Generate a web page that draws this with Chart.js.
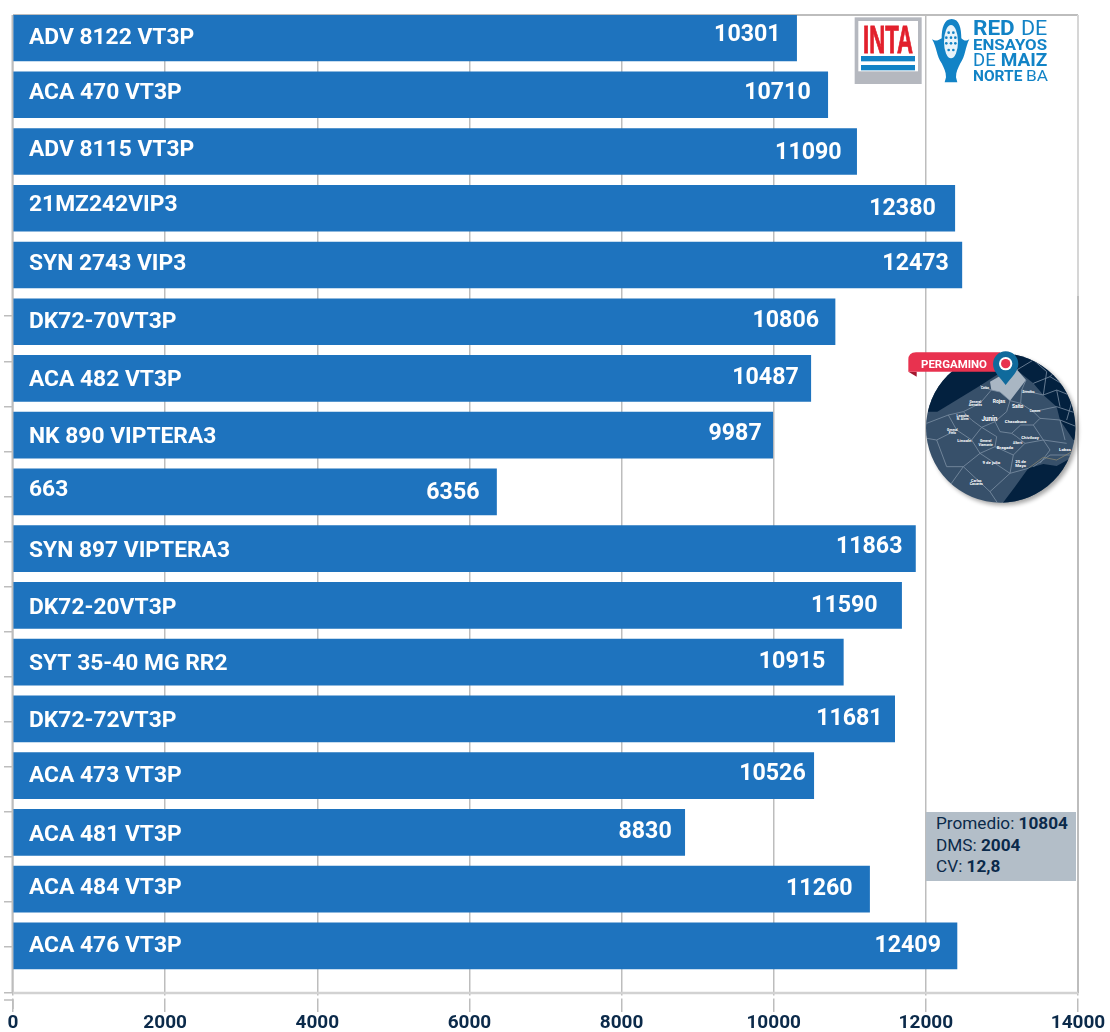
<!DOCTYPE html>
<html><head><meta charset="utf-8">
<style>
html,body{margin:0;padding:0;background:#fff;width:1110px;height:1032px;overflow:hidden}
#wrap{position:relative;width:1110px;height:1032px}
canvas{position:absolute;left:0;top:0}
svg{position:absolute;overflow:visible}
#stats{position:absolute;left:926px;top:812px;width:150px;height:69px;background:#b3bec8;color:#0b2a4a;font:17.2px/21.5px Roboto,sans-serif;box-sizing:border-box;padding:1px 0 0 10px;white-space:nowrap}
#stats b{font-weight:700}
</style>
<script src="https://cdn.jsdelivr.net/npm/chart.js@4"></script>
</head><body><div id="wrap">
<canvas id="c" width="1110" height="1032"></canvas>

<svg style="left:840px;top:0" width="270" height="100" viewBox="0 0 810 300" font-family="Roboto,sans-serif">
  <rect x="44" y="52" width="201" height="200" fill="#b5b8bf"/>
  <rect x="55" y="63" width="179" height="151" fill="#fff"/>
  <text x="144" y="160" text-anchor="middle" font-size="118" font-weight="700" fill="#e2202c" stroke="#e2202c" stroke-width="3" textLength="150" lengthAdjust="spacingAndGlyphs" font-family="'Liberation Sans',sans-serif">INTA</text>
  <rect x="63" y="168" width="162" height="16" fill="#1283c6"/>
  <rect x="63" y="195" width="162" height="16" fill="#1283c6"/>
  <path d="M335 57C312 57 305 85 305 115C290 125 285 122 276 118C290 140 290 170 305 190C312 205 318 215 318 232L314 247H352L348 232C348 215 354 205 361 190C376 170 376 140 388 118C380 122 374 125 364 115C364 85 358 57 335 57Z" fill="#1283c6"/>
  <ellipse cx="333" cy="125" rx="21" ry="50" fill="#e8f3fa"/>
  <g fill="#1283c6"><circle cx="326" cy="98" r="4"/><circle cx="340" cy="98" r="4"/><circle cx="319" cy="113" r="4"/><circle cx="333" cy="113" r="4"/><circle cx="346" cy="113" r="4"/><circle cx="319" cy="130" r="4"/><circle cx="333" cy="130" r="4"/><circle cx="346" cy="130" r="4"/><circle cx="326" cy="150" r="4"/><circle cx="340" cy="150" r="4"/></g>
  <g fill="#1283c6">
    <text x="399" y="104" font-size="62" font-weight="700" textLength="125" lengthAdjust="spacingAndGlyphs">RED</text>
    <text x="543" y="104" font-size="62" font-weight="400" textLength="79" lengthAdjust="spacingAndGlyphs">DE</text>
    <text x="399" y="149" font-size="46" font-weight="700" textLength="222" lengthAdjust="spacingAndGlyphs">ENSAYOS</text>
    <text x="399" y="198" font-size="54" font-weight="400" textLength="68" lengthAdjust="spacingAndGlyphs">DE</text>
    <text x="482" y="198" font-size="54" font-weight="700" textLength="140" lengthAdjust="spacingAndGlyphs">MAIZ</text>
    <text x="399" y="243" font-size="44" font-weight="700" textLength="148" lengthAdjust="spacingAndGlyphs">NORTE</text>
    <text x="558" y="243" font-size="44" font-weight="400" textLength="66" lengthAdjust="spacingAndGlyphs">BA</text>
  </g>
</svg>

<svg style="left:900px;top:340px" width="190" height="170" viewBox="0 0 570 510" font-family="Roboto,sans-serif">
  <defs>
    <clipPath id="disc"><circle cx="302" cy="264" r="224"/></clipPath>
    <filter id="sh" x="-20%" y="-20%" width="140%" height="140%"><feGaussianBlur stdDeviation="7"/></filter>
  </defs>
  <circle cx="310" cy="272" r="224" fill="#000" opacity=".35" filter="url(#sh)"/>
  <g clip-path="url(#disc)">
    <rect x="70" y="30" width="470" height="470" fill="#37506a"/>
    <path d="M70 215H112L240 137L290 105L345 55L70 20Z" fill="#03213f"/>
    <path d="M345 40L350 90L400 130L430 165L470 200L480 240L520 300L540 300V30Z" fill="#03213f"/>
    <path d="M300 500L345 440L385 385L430 372L470 378L530 345V510Z" fill="#03213f"/>
    <path d="M270 125L300 108L350 88L378 120L330 182L300 156L274 150Z" fill="#a9b6c3"/>
    <g fill="none" stroke="#7d91a4" stroke-width="2.4" stroke-linejoin="round">
      <path d="M240 137L274 150L300 156L330 182L320 215L285 245L245 262L215 240L190 215L240 190"/>
      <path d="M240 190L274 150M330 182L362 190L400 215L420 235L400 255L362 255L335 280L300 275L285 245"/>
      <path d="M378 120L365 150L362 190M365 150L430 165M400 215L470 200M420 235L480 240M400 255L430 300L500 310"/>
      <path d="M245 262L215 300L170 270L145 225L190 215M145 225L80 250M170 270L110 300L80 295M215 300L240 340L190 380"/>
      <path d="M245 262L290 290L285 320L240 340M285 320L340 345L375 310L350 290L335 280M375 310L430 300L450 330L420 370"/>
      <path d="M240 340L330 400L270 455L190 380L140 380L110 300M340 345L330 400M190 380L140 450M270 455L300 500"/>
      <path d="M400 380L450 345L520 345M385 385L330 400"/>
      <path d="M430 165L470 150L520 170M470 200L530 220M480 240L530 260M350 90L400 60M400 130L450 110L500 140"/>
      <path d="M400 60L440 95L430 165M450 110L490 70M500 140L535 130M470 150L480 200M520 170L500 240M480 240L495 300"/>
    </g>
    <path d="M385 385L430 352L470 360L525 330" fill="none" stroke="#8f8b75" stroke-width="2.2"/>
    <g fill="#fff" font-weight="700" text-anchor="middle" font-size="11">
      <text x="297" y="190" font-size="15">Rojas</text>
      <text x="353" y="204" font-size="15">Salto</text>
      <text x="268" y="242" font-size="19">Junín</text>
      <text x="347" y="250" font-size="13">Chacabuco</text>
      <text x="390" y="298" font-size="13">Chivilcoy</text>
      <text x="193" y="306" font-size="13">Lincoln</text>
      <text x="315" y="328" font-size="13">Bragado</text>
      <text x="274" y="372" font-size="13">9 de julio</text>
      <text x="362" y="369" font-size="13">25 de</text><text x="362" y="381" font-size="13">Mayo</text>
      <text x="229" y="425">Carlos</text><text x="229" y="436">Casares</text>
      <text x="495" y="334" font-size="13">Lobos</text>
      <text x="257" y="307" font-size="10">General</text><text x="257" y="317" font-size="10">Viamonte</text>
      <text x="188" y="230" font-size="10">Leandro</text><text x="188" y="240" font-size="10">N. Alem</text>
      <text x="226" y="189" font-size="10">General</text><text x="226" y="198" font-size="10">Arenales</text>
      <text x="157" y="273" font-size="9">General</text><text x="157" y="282" font-size="9">Pinto</text>
      <text x="353" y="313" font-size="9">Alberti</text>
      <text x="385" y="160" font-size="9">Arrecifes</text>
      <text x="255" y="146" font-size="9">Colón</text>
      <text x="405" y="215" font-size="9">Carmen</text>
    </g>
  </g>
  <path d="M25 95L50 110V95Z" fill="#a3182f"/>
  <path d="M25 95V60Q25 37 48 37H300V95Z" fill="#e8324f"/>
  <text x="162" y="85" text-anchor="middle" fill="#fff" font-size="32" font-weight="700" textLength="198" lengthAdjust="spacingAndGlyphs">PERGAMINO</text>
  <path d="M317 135C300 112 279 95 279 72A38 38 0 0 1 355 72C355 95 334 112 317 135Z" fill="#0f6a9c"/>
  <circle cx="317" cy="71" r="20" fill="#fff"/>
  <circle cx="317" cy="71" r="14" fill="#e8324f"/>
</svg>

<div id="stats">Promedio: <b>10804</b><br>DMS: <b>2004</b><br>CV: <b>12,8</b></div>
</div>
<script>
const categories = ["ADV 8122 VT3P","ACA 470 VT3P","ADV 8115 VT3P","21MZ242VIP3","SYN 2743 VIP3","DK72-70VT3P","ACA 482 VT3P","NK 890 VIPTERA3","663","SYN 897 VIPTERA3","DK72-20VT3P","SYT 35-40 MG RR2","DK72-72VT3P","ACA 473 VT3P","ACA 481 VT3P","ACA 484 VT3P","ACA 476 VT3P"];
const barLengths = [10301,10710,11090,12380,12473,10806,10487,9987,6356,11863,11681,10915,11590,10526,8830,11260,12409];
const printedValues = ["10301","10710","11090","12380","12473","10806","10487","9987","6356","11863","11590","10915","11681","10526","8830","11260","12409"];
const xTicks = [0,2000,4000,6000,8000,10000,12000,14000];
const yTickMarks = [4.9,5.71,6.5,7.3,8.09,8.88,9.67,10.47,11.26,12.05,12.85,13.64,14.43,15.22,16.02,16.83];
const labelLift = [0,-1,-1,-3,-1,1,2,2,-2,3,3,2,2,1,3,-1,0];
const valueLift = [-3,-2,2,1,-1,-1,0,-1,1,-1,1,0,0,-1,0,0,0];
const valueInset = [16,17,15,19,13,16,12,11,17,13,24,18,12,8,13,17,16];

const GRID = '#bdbdbd';
const inBarText = {
  id:'inBarText',
  afterDatasetsDraw(chart){
    const {ctx,scales:{x,y}} = chart;
    ctx.save();
    ctx.fillStyle='#fff';
    ctx.textBaseline='middle';
    barLengths.forEach((v,i)=>{
      const py=y.getPixelForValue(i);
      ctx.font='700 22.8px Roboto, sans-serif';
      ctx.textAlign='left';
      ctx.fillText(categories[i],29,py+labelLift[i]);
      ctx.font='700 23.2px Roboto, sans-serif';
      ctx.textAlign='right';
      ctx.fillText(printedValues[i],x.getPixelForValue(v)-valueInset[i],py+valueLift[i]);
    });
    ctx.restore();
  }
};
const frame = {
  id:'frame',
  beforeDatasetsDraw(chart){
    const {ctx,chartArea:a}=chart;
    ctx.save();
    ctx.strokeStyle=GRID;ctx.lineWidth=2;
    ctx.beginPath();
    ctx.moveTo(a.left,a.top);ctx.lineTo(a.right,a.top);
    ctx.moveTo(a.left-0.5,a.top);ctx.lineTo(a.left-0.5,a.bottom);
    ctx.moveTo(a.right,296);ctx.lineTo(a.right,a.bottom);
    ctx.stroke();
    ctx.strokeStyle='#d6d6d6';
    ctx.beginPath();ctx.moveTo(a.right,a.top);ctx.lineTo(a.right,296);ctx.stroke();
    ctx.strokeStyle='#fff';ctx.lineWidth=3;
    ctx.beginPath();
    ctx.moveTo(a.left-10,a.bottom+4);ctx.lineTo(a.right+3,a.bottom+4);
    ctx.stroke();
    ctx.strokeStyle=GRID;ctx.lineWidth=1.5;
    ctx.beginPath();
    ctx.moveTo(4,a.bottom+7);ctx.lineTo(a.left,a.bottom+7);ctx.lineTo(a.left,a.bottom+16);
    ctx.stroke();
    ctx.strokeStyle='#d2d2d2';ctx.lineWidth=2.5;
    ctx.beginPath();ctx.moveTo(a.left,a.bottom);ctx.lineTo(a.right,a.bottom);ctx.stroke();
    ctx.restore();
  }
};
new Chart(document.getElementById('c'),{
  type:'bar',
  data:{datasets:[{
    data:barLengths.map((v,i)=>({x:v,y:i})),
    backgroundColor:'#1e73be',
    barThickness:46,
    borderWidth:0
  }]},
  options:{
    indexAxis:'y',responsive:false,animation:false,devicePixelRatio:1,
    layout:{padding:{left:0,right:32,top:15,bottom:0}},
    plugins:{legend:{display:false},tooltip:{enabled:false}},
    scales:{
      x:{type:'linear',min:0,max:14000,
        afterBuildTicks(s){s.ticks=xTicks.map(v=>({value:v}));},
        afterFit(s){s.height=39;},
        grid:{color:GRID,lineWidth:1.5,tickLength:19,tickColor:GRID},
        border:{display:false},
        ticks:{color:'#0b2a4a',padding:0,maxRotation:0,autoSkip:false,callback:v=>String(v),font:{family:'Roboto, sans-serif',size:19,weight:'700'}}
      },
      y:{type:'linear',reverse:true,min:-0.405,max:16.83,offset:false,
        afterBuildTicks(s){s.ticks=yTickMarks.map(v=>({value:v}));},
        afterFit(s){s.width=13;},
        grid:{drawOnChartArea:false,offset:false,tickLength:9,color:GRID,lineWidth:1.5},
        border:{display:false},
        ticks:{display:false}
      }
    }
  },
  plugins:[inBarText,frame]
});
</script>
</body></html>
